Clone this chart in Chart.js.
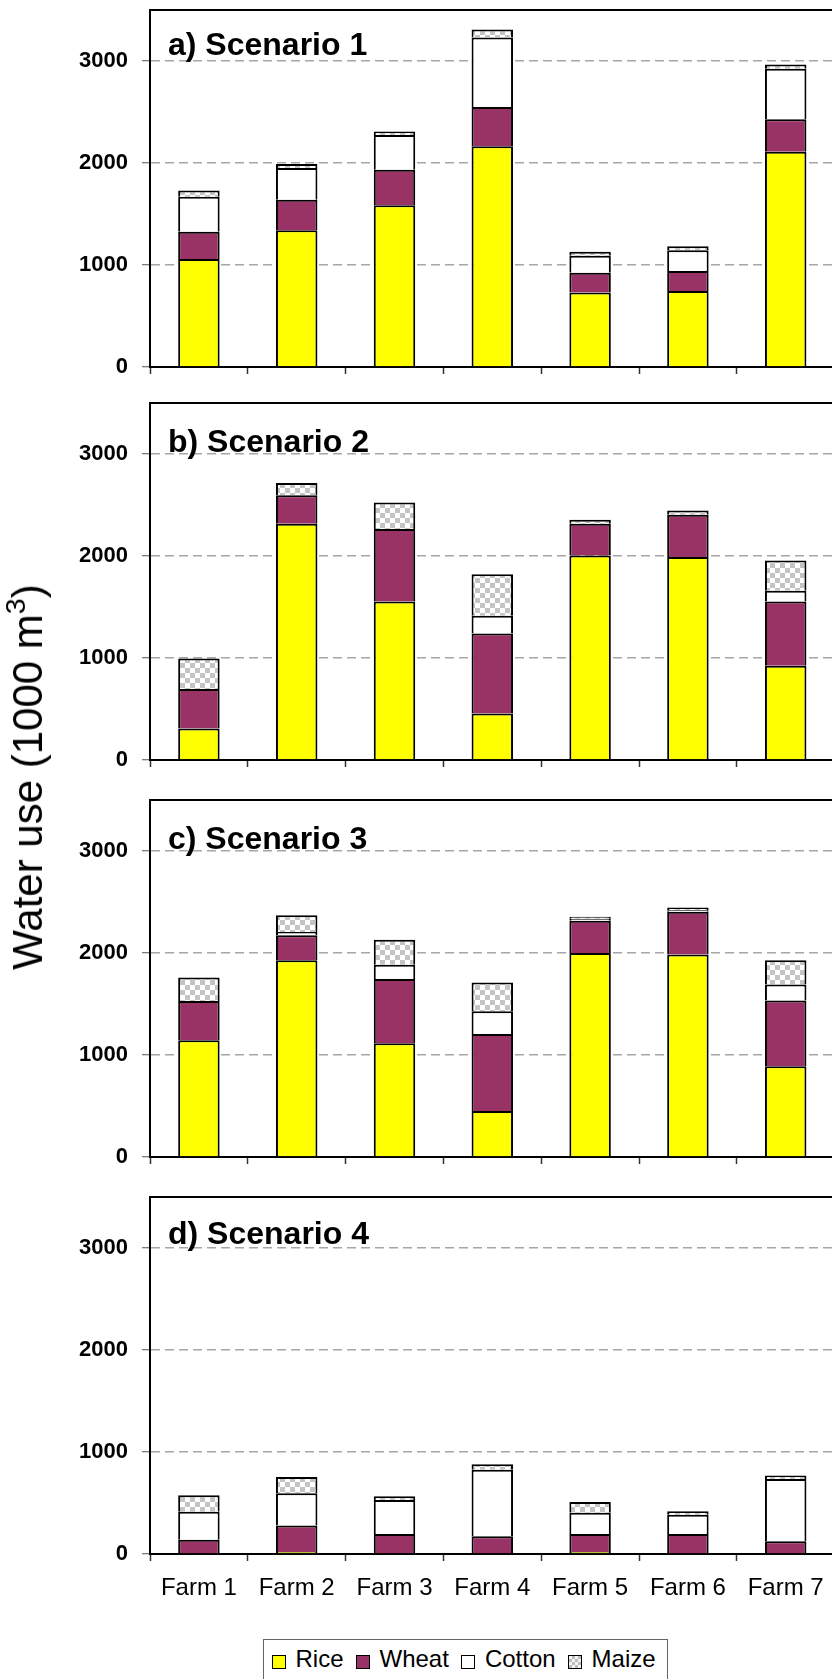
<!DOCTYPE html>
<html><head><meta charset="utf-8">
<script src="https://cdn.jsdelivr.net/npm/chart.js@4.4.1/dist/chart.umd.min.js"></script>
<style>
html,body{margin:0;padding:0;width:832px;height:1679px;overflow:hidden;background:#fff;font-family:"Liberation Sans",Arial,sans-serif;}
canvas.panel{position:absolute;left:0;}
.ptitle{position:absolute;left:168px;font-weight:bold;font-size:32px;line-height:1;white-space:nowrap;color:#000;}
#ytitle{position:absolute;left:28.2px;top:776.5px;transform:translate(-50%,-50%) rotate(-90deg);font-size:42px;line-height:1;white-space:nowrap;color:#000;}
#ytitle sup{font-size:0.68em;line-height:0;vertical-align:0.6em;}
#legend{position:absolute;left:263px;top:1639px;width:405px;height:70px;box-sizing:border-box;border:1.5px solid #666;padding:7px 0 0 7.5px;display:flex;align-items:flex-start;}
#legend .sw{width:14px;height:14px;box-sizing:border-box;border:1.5px solid #000;margin:8px 10px 0 0;flex:none;}
#legend .lt{font-size:24px;line-height:1;margin-right:12px;color:#000;white-space:nowrap;}
</style>
</head><body>
<canvas id="c0" class="panel" width="840" height="377" style="top:0px"></canvas>
<canvas id="c1" class="panel" width="840" height="377" style="top:393px"></canvas>
<canvas id="c2" class="panel" width="840" height="377" style="top:790px"></canvas>
<canvas id="c3" class="panel" width="840" height="427" style="top:1187px"></canvas>
<div id="titles"></div>
<div id="ytitle">Water use (1000 m<sup>3</sup>)</div>
<div id="legend"></div>
<script>
// ---- data ----
const farms = ['Farm 1','Farm 2','Farm 3','Farm 4','Farm 5','Farm 6','Farm 7'];
const crops = ['Rice','Wheat','Cotton','Maize'];
const scenarioTitles = ['a) Scenario 1','b) Scenario 2','c) Scenario 3','d) Scenario 4'];
const yTickValues = [0, 1000, 2000, 3000];
const yTickLabels = ['0', '1000', '2000', '3000'];
const yMax = 3500;

const rice1   = [1060, 1340, 1585, 2165, 730, 745, 2110];
const wheat1  = [265, 300, 350, 385, 195, 195, 320];
const cotton1 = [345, 310, 340, 680, 165, 205, 495];
const maize1  = [60, 40, 35, 80, 40, 40, 40];

const rice2   = [310, 2315, 1555, 455, 2005, 1990, 925];
const wheat2  = [385, 280, 710, 785, 310, 415, 630];
const cotton2 = [0, 0, 0, 175, 0, 0, 105];
const maize2  = [300, 120, 260, 405, 40, 40, 295];

const rice3   = [1145, 1930, 1115, 450, 2000, 1985, 890];
const wheat3  = [385, 245, 630, 755, 315, 420, 645];
const cotton3 = [0, 30, 140, 225, 20, 15, 155];
const maize3  = [230, 165, 245, 280, 20, 25, 240];

const rice4   = [0, 20, 0, 0, 20, 0, 0];
const wheat4  = [140, 260, 195, 175, 175, 195, 125];
const cotton4 = [275, 315, 335, 650, 210, 190, 610];
const maize4  = [160, 160, 35, 55, 105, 35, 35];

const scenarios = [
  [rice1, wheat1, cotton1, maize1],
  [rice2, wheat2, cotton2, maize2],
  [rice3, wheat3, cotton3, maize3],
  [rice4, wheat4, cotton4, maize4]
];

// ---- styles ----
const FONT = '"Liberation Sans", Arial, sans-serif';
const titleBaselines = [55, 452, 849, 1244];
const AXIS_LEFT = 150, PLOT_RIGHT = 834.6, CANVAS_W = 840;

function checker() {
  const c = document.createElement('canvas');
  c.width = 10; c.height = 10;
  const g = c.getContext('2d');
  g.fillStyle = '#ffffff'; g.fillRect(0, 0, 10, 10);
  g.fillStyle = '#c4c4c4'; g.fillRect(0, 0, 5, 5); g.fillRect(5, 5, 5, 5);
  return g.createPattern(c, 'repeat');
}
const cropFills = ['#ffff00', '#993366', '#ffffff', checker()];
const legendFills = ['#ffff00', '#993366', '#ffffff',
  'repeating-conic-gradient(#bdbdbd 0 25%, #f4f4f4 0 50%) 0 0/6px 6px'];

const framePlugin = {
  id: 'frame',
  afterDatasetsDraw(chart) {
    const {ctx, chartArea: a} = chart;
    ctx.save();
    ctx.strokeStyle = '#000';
    ctx.lineWidth = 2;
    ctx.beginPath();
    ctx.moveTo(a.left, a.top);
    ctx.lineTo(a.right, a.top);
    ctx.lineTo(a.right, a.bottom);
    ctx.stroke();
    ctx.restore();
  }
};

function makeChart(idx) {
  const isBottom = idx === 3;
  const data = scenarios[idx];
  new Chart(document.getElementById('c' + idx), {
    type: 'bar',
    data: {
      labels: farms,
      datasets: crops.map((name, k) => ({
        label: name,
        data: data[k],
        backgroundColor: cropFills[k],
        borderColor: '#000',
        borderWidth: 2,
        borderSkipped: 'start',
        inflateAmount: 0,
        barPercentage: 0.424,
        categoryPercentage: 1.0
      }))
    },
    options: {
      responsive: false,
      animation: false,
      events: [],
      layout: { padding: { top: 10, left: 0, right: CANVAS_W - PLOT_RIGHT, bottom: 0 } },
      plugins: { legend: { display: false }, tooltip: { enabled: false }, title: { display: false } },
      scales: {
        x: {
          stacked: true,
          afterFit: s => { s.height = isBottom ? 60 : 10; s.paddingLeft = 0; s.paddingRight = 0; },
          ticks: { display: isBottom, font: { family: FONT, size: 24 }, color: '#000', padding: 13, maxRotation: 0, autoSkip: false },
          grid: { offset: true, drawOnChartArea: false, drawTicks: true, tickLength: 7, tickColor: '#333', tickWidth: 1.5 },
          border: { display: true, color: '#000', width: 2 }
        },
        y: {
          stacked: true,
          min: 0,
          max: yMax,
          afterBuildTicks: s => { s.ticks = yTickValues.map(v => ({ value: v })); },
          afterFit: s => { s.width = AXIS_LEFT; s.paddingTop = 0; s.paddingBottom = 0; },
          ticks: {
            font: { family: FONT, size: 22, weight: 'bold' }, color: '#000', padding: 14,
            callback: v => yTickLabels[yTickValues.indexOf(v)]
          },
          grid: {
            color: c => (c.tick && c.tick.value === 0) ? 'rgba(0,0,0,0)' : '#a6a6a6',
            lineWidth: 1.5,
            tickColor: '#555',
            tickLength: 8,
            tickWidth: 1,
            tickBorderDash: []
          },
          border: { display: true, color: '#000', width: 2, dash: [9, 5] }
        }
      }
    },
    plugins: [framePlugin]
  });
}

for (let i = 0; i < 4; i++) makeChart(i);

// panel titles
const tdiv = document.getElementById('titles');
scenarioTitles.forEach((t, i) => {
  const d = document.createElement('div');
  d.className = 'ptitle';
  d.textContent = t;
  d.style.top = (titleBaselines[i] - 0.8465 * 32) + 'px';
  tdiv.appendChild(d);
});

// legend
const lg = document.getElementById('legend');
crops.forEach((name, k) => {
  const sw = document.createElement('span');
  sw.className = 'sw';
  sw.style.background = legendFills[k];
  const lt = document.createElement('span');
  lt.className = 'lt';
  lt.textContent = name;
  lg.appendChild(sw);
  lg.appendChild(lt);
});
</script>
</body></html>
